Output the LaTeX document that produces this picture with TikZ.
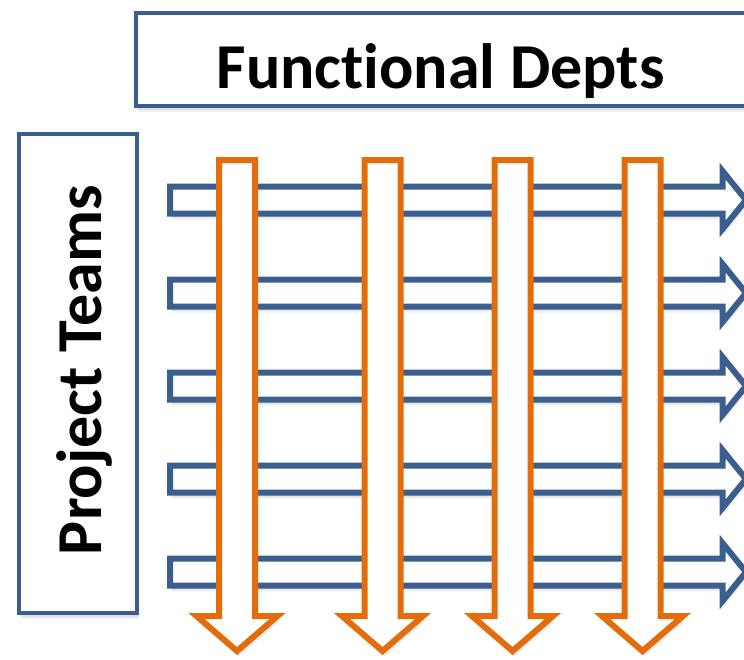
\documentclass[tikz,border=0pt]{standalone}
\usepackage{fontspec}
\setmainfont{Carlito}[Ligatures={NoCommon,NoContextual}]
\usetikzlibrary{shadows}
\definecolor{tblue}{HTML}{3A5F8F}
\definecolor{torange}{HTML}{E46C0A}
\begin{document}
\begin{tikzpicture}[x=1pt,y=-1pt,
  softshadow/.style={
    drop shadow={shadow xshift=0.5pt,shadow yshift=-2pt,opacity=.10,fill=black},
    drop shadow={shadow xshift=1pt,shadow yshift=-4pt,opacity=.08,fill=black},
    drop shadow={shadow xshift=1.5pt,shadow yshift=-6pt,opacity=.06,fill=black}},
  hbar/.style={draw=tblue,line width=6pt,fill=white,miter limit=10,softshadow},
  vbar/.style={draw=torange,line width=6pt,fill=white,miter limit=10,softshadow},
  box/.style={draw=tblue,line width=4.5pt,fill=white,softshadow},
  bigtext/.style={font=\bfseries\fontsize{64}{64}\selectfont,inner sep=0pt}]
\useasboundingbox (0,0) rectangle (744,659);
\clip (0,0) rectangle (744,659);
% boxes
\draw[box] (136,13) rectangle (770,106);
\node[bigtext,anchor=base] (fd) at (440.5,88) {Funct\kern0pt ional Depts};
\draw[box] (19,134) rectangle (137,613);
\node[bigtext,anchor=base,rotate=90] (pt) at (101,370) {Project Teams};
% horizontal arrows
\foreach \c in {200,293,386,479,572}{
  \draw[hbar] (170,\c-13.5) -- (722.5,\c-13.5) -- (722.5,\c-29) -- (746,\c)
    -- (722.5,\c+29) -- (722.5,\c+13.5) -- (170,\c+13.5) -- cycle;
}
% vertical arrows
\foreach \c in {237,382.5,512.5,642.5}{
  \draw[vbar] (\c-18,160) -- (\c+18,160) -- (\c+18,616)
    -- (\c+40.5,616) -- (\c,651) -- (\c-40.5,616) -- (\c-18,616) -- cycle;
}
\end{tikzpicture}
\end{document}
